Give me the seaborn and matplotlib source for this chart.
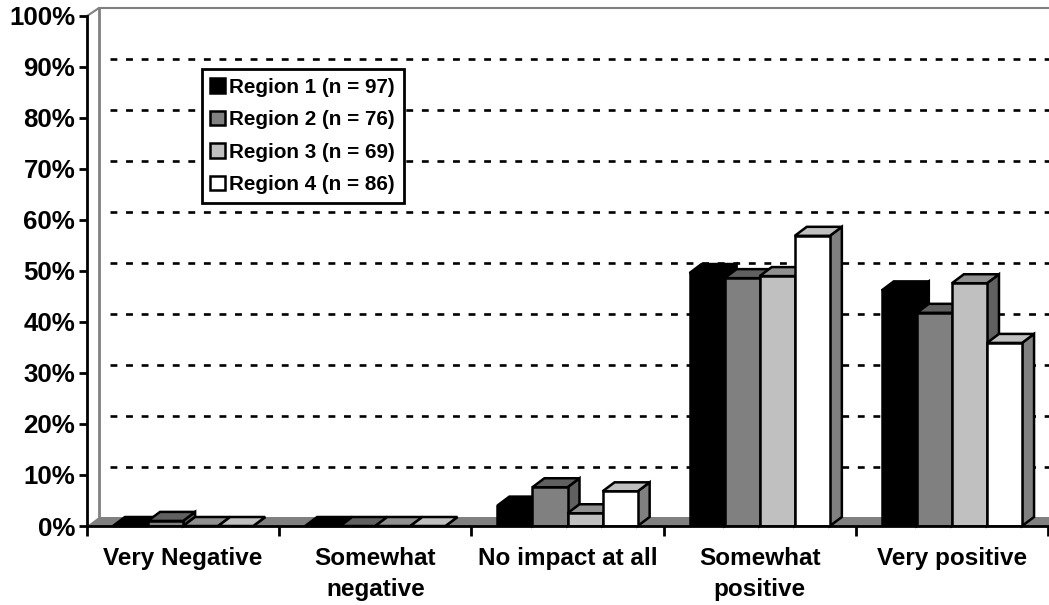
import matplotlib
matplotlib.use("Agg")
import matplotlib.pyplot as plt
import pandas as pd
import seaborn as sns
from matplotlib.patches import Polygon

# values
categories = ["Very Negative", "Somewhat\nnegative", "No impact at all", "Somewhat\npositive", "Very positive"]
region_names = ["Region 1 (n = 97)", "Region 2 (n = 76)", "Region 3 (n = 69)", "Region 4 (n = 86)"]
region1 = [0, 0, 4.0, 49.6, 46.2]
region2 = [1.0, 0, 7.6, 48.6, 41.8]
region3 = [0, 0, 2.5, 49.0, 47.6]
region4 = [0, 0, 6.8, 56.9, 35.9]

front_colors = ["#000000", "#808080", "#c0c0c0", "#ffffff"]
top_colors = ["#000000", "#606060", "#909090", "#c0c0c0"]
side_colors = ["#000000", "#606060", "#606060", "#808080"]

W, H = 1049, 605
sns.set_theme(style="white")
plt.rcParams["font.family"] = ["Liberation Sans", "DejaVu Sans"]
plt.rcParams["font.weight"] = "bold"

rows = []
for name, vals in zip(region_names, [region1, region2, region3, region4]):
    for cat, v in zip(categories, vals):
        rows.append({"category": cat, "region": name, "value": v})
df = pd.DataFrame(rows)

fig = plt.figure(figsize=(W / 100, H / 100), dpi=100)
ax = fig.add_axes([87 / W, 1 - 526 / H, 961 / W, 510 / H])

sns.barplot(data=df, x="category", y="value", hue="region", order=categories,
            hue_order=region_names, palette=front_colors, width=0.73, gap=0,
            saturation=1, edgecolor="black", linewidth=1.8, ax=ax, zorder=5)

ax.set_xlim(-0.5, 4.5)
ax.set_ylim(0, 100)
ax.set_xlabel("")
ax.set_ylabel("")

# 3d depth of the box, in data units
dx = 12 / 961 * 5
dy = 9 / 510 * 100
wall_dy = 8 / 510 * 100
left, right = -0.5, 4.5

# floor and back wall
ax.add_patch(Polygon([(left, 0), (left + dx, dy), (right + 0.01, dy), (right + 0.01, 0)],
                     facecolor="#808080", edgecolor="none", zorder=2, clip_on=False))
wall = "#808080"
ax.plot([left + dx, left + dx], [dy, 100 + wall_dy], color=wall, lw=2, zorder=2, clip_on=False)
ax.plot([left, left + dx], [100, 100 + wall_dy], color=wall, lw=1.5, zorder=2, clip_on=False)
ax.plot([left + dx, right + 0.01], [100 + wall_dy, 100 + wall_dy], color=wall, lw=1.5, zorder=2, clip_on=False)

# dashed gridlines sit on the back wall, starting a little off it
grid_start = left + 23 / 961 * 5
for g in range(10, 100, 10):
    ax.plot([grid_start, right + 0.01], [g + wall_dy, g + wall_dy], color="black", lw=1.9,
            dashes=(2.6, 3.3), zorder=1, clip_on=False)

# fake 3d: top and side faces of each bar
n_cat = len(categories)
for i, bar in enumerate(ax.patches[:len(region_names) * n_cat]):
    series = i // n_cat
    z = 5 + series * 0.5 + 0.1 * (i % n_cat)
    bar.set_zorder(z + 0.2)
    x0, w, h = bar.get_x(), bar.get_width(), bar.get_height()
    side = Polygon([(x0 + w, 0), (x0 + w + dx, dy), (x0 + w + dx, h + dy), (x0 + w, h)],
                   facecolor=side_colors[series], edgecolor="black", lw=1.8, zorder=z, clip_on=False)
    top = Polygon([(x0, h), (x0 + dx, h + dy), (x0 + w + dx, h + dy), (x0 + w, h)],
                  facecolor=top_colors[series], edgecolor="black", lw=1.8, zorder=z + 0.1, clip_on=False)
    ax.add_patch(side)
    ax.add_patch(top)

# axes
sns.despine(ax=ax, top=True, right=True)
for s in ["left", "bottom"]:
    ax.spines[s].set_color("black")
    ax.spines[s].set_linewidth(2)
    ax.spines[s].set_zorder(20)

y_ticks = list(range(0, 101, 10))
ax.set_yticks(y_ticks)
ax.set_yticklabels([f"{t}%" for t in y_ticks], fontsize=18.6, fontweight="bold", color="black")
ax.tick_params(axis="y", length=6, width=2, pad=2.5, color="black", left=True)

ax.set_xticks([i - 0.5 for i in range(n_cat + 1)])
ax.set_xticklabels([""] * (n_cat + 1))
ax.tick_params(axis="x", which="major", length=7, width=2, color="black", bottom=True)
ax.set_xticks(range(n_cat), minor=True)
ax.set_xticklabels(categories, minor=True, fontsize=17.5, fontweight="bold", color="black", linespacing=1.45)
ax.tick_params(axis="x", which="minor", length=0, pad=15)
for lab in ax.get_xticklabels(minor=True):
    lab.set_verticalalignment("top")

leg = ax.legend(loc="upper left", bbox_to_anchor=((201.5 - 87) / 961, (526 - 69) / 510),
                frameon=True, fancybox=False, framealpha=1, edgecolor="black",
                fontsize=14.9, handlelength=0.72, handleheight=0.72, handletextpad=0.2,
                labelspacing=0.65, borderpad=0.43, borderaxespad=0)
leg.get_frame().set_linewidth(2)
leg.set_zorder(30)
for t in leg.get_texts():
    t.set_fontweight("bold")
    t.set_color("black")

fig.savefig("out.png", dpi=100, facecolor="white")
